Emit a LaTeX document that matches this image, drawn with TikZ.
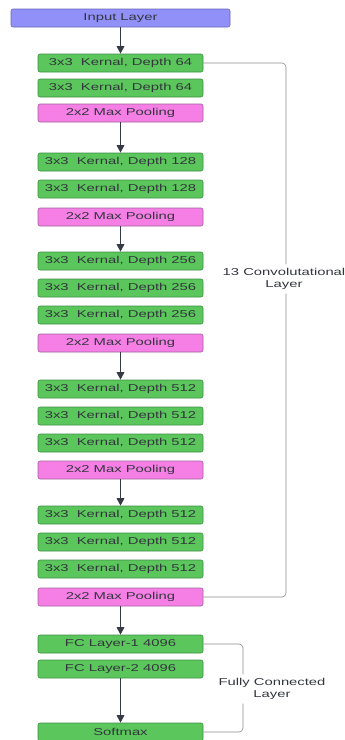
\documentclass[tikz,border=0pt]{standalone}
\usepackage{fontspec}
\setmainfont{Liberation Sans}
\newfontfamily\widesans[FakeStretch=1.48]{Liberation Sans}
\usetikzlibrary{arrows.meta}

\definecolor{convgreen}{HTML}{5BC65B}
\definecolor{convedge}{HTML}{3E8E44}
\definecolor{poolpink}{HTML}{F67FE6}
\definecolor{pooledge}{HTML}{A0609A}
\definecolor{inpurple}{HTML}{9090F8}
\definecolor{inedge}{HTML}{6868B8}
\definecolor{txtgray}{HTML}{33363D}
\definecolor{flowgray}{HTML}{363A44}
\definecolor{bracegray}{HTML}{8A8A8A}

\tikzset{
  layer/.style={draw, rounded corners=2pt, line width=0.6pt, minimum width=165pt,
    minimum height=18pt, inner sep=0pt, text=txtgray,
    font=\widesans\fontsize{10}{11}\selectfont},
  conv/.style={layer, fill=convgreen, draw=convedge},
  pool/.style={layer, fill=poolpink, draw=pooledge},
  flow/.style={draw=flowgray, line width=1.6pt, -{Triangle[length=7.5pt,width=7.5pt]}},
  brace/.style={draw=bracegray, line width=0.6pt, rounded corners=4pt},
  bracelabel/.style={align=center, text=txtgray, inner xsep=0pt, inner ysep=4pt,
    font=\widesans\fontsize{10}{11.5}\selectfont}
}

\begin{document}
\begin{tikzpicture}[x=1pt, y=-1pt]
  \useasboundingbox (0, 0) rectangle (345, 740);

  % entrée
  \node[layer, fill=inpurple, draw=inedge, minimum width=219pt] at (120.5, 18) (input) {Input Layer};

  % blocs de convolution
  \node[conv] at (120.5, 63) (c1) {3x3\ \ Kernal, Depth 64};
  \node[conv] at (120.5, 88) (c2) {3x3\ \ Kernal, Depth 64};
  \node[pool] at (120.5, 113) (p1) {2x2 Max Pooling};

  \node[conv] at (120.5, 162) (c3) {3x3\ \ Kernal, Depth 128};
  \node[conv] at (120.5, 189) (c4) {3x3\ \ Kernal, Depth 128};
  \node[pool] at (120.5, 217) (p2) {2x2 Max Pooling};

  \node[conv] at (120.5, 261) (c5) {3x3\ \ Kernal, Depth 256};
  \node[conv] at (120.5, 288) (c6) {3x3\ \ Kernal, Depth 256};
  \node[conv] at (120.5, 315) (c7) {3x3\ \ Kernal, Depth 256};
  \node[pool] at (120.5, 343) (p3) {2x2 Max Pooling};

  \node[conv] at (120.5, 389) (c8) {3x3\ \ Kernal, Depth 512};
  \node[conv] at (120.5, 416) (c9) {3x3\ \ Kernal, Depth 512};
  \node[conv] at (120.5, 443) (c10) {3x3\ \ Kernal, Depth 512};
  \node[pool] at (120.5, 470) (p4) {2x2 Max Pooling};

  \node[conv] at (120.5, 515) (c11) {3x3\ \ Kernal, Depth 512};
  \node[conv] at (120.5, 542) (c12) {3x3\ \ Kernal, Depth 512};
  \node[conv] at (120.5, 569) (c13) {3x3\ \ Kernal, Depth 512};
  \node[pool] at (120.5, 597) (p5) {2x2 Max Pooling};

  % couches denses
  \node[conv] at (120.5, 644) (fc1) {FC Layer-1 4096};
  \node[conv] at (120.5, 669) (fc2) {FC Layer-2 4096};
  \node[conv] at (120.5, 732) (soft) {Softmax};

  % flèches
  \foreach \a/\b in {input/c1, p1/c3, p2/c5, p3/c8, p4/c11, p5/fc1, fc2/soft}
    \draw[flow] (\a.south) -- (\b.north);

  % accolades
  \coordinate (cbrk) at (286, 0);
  \node[bracelabel] at (284, 279) (convlbl) {13 Convolutational\\Layer};
  \draw[brace] (c1.east) -| (cbrk |- convlbl.north);
  \draw[brace] (cbrk |- convlbl.south) |- (p5.east);

  \coordinate (fbrk) at (243, 0);
  \node[bracelabel] at (272, 689) (fclbl) {Fully Connected\\Layer};
  \draw[brace] (fc1.east) -| (fbrk |- fclbl.north);
  \draw[brace] (fbrk |- fclbl.south) |- (soft.east);
\end{tikzpicture}
\end{document}
